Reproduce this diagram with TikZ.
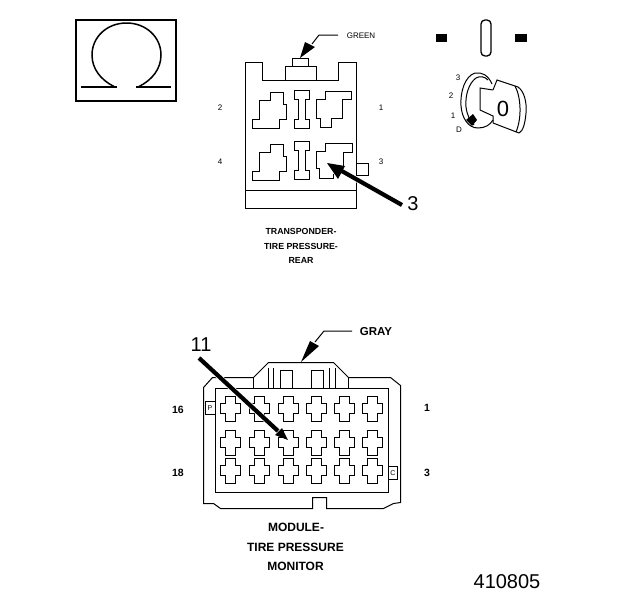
\documentclass[tikz,border=0pt]{standalone}
\usepackage{fontspec}
\setmainfont{Liberation Sans}
\tikzset{
  outl/.style={line width=1pt,line join=miter,xshift=0.5pt,yshift=-0.5pt},
  thickarrow/.style={line width=4.2pt},
  halo/.style={line width=5.6pt,white},
  leader/.style={line width=1pt},
  tiny/.style={inner sep=0pt,font=\fontsize{8}{9}\selectfont},
  tinyb/.style={inner sep=0pt,font=\fontsize{8.8}{10}\selectfont\bfseries},
  midb/.style={inner sep=0pt,font=\fontsize{12}{14}\selectfont\bfseries},
  sideb/.style={inner sep=0pt,font=\fontsize{10.5}{12}\selectfont\bfseries},
  big/.style={inner sep=0pt,font=\fontsize{20}{22}\selectfont},
  num/.style={inner sep=0pt,font=\fontsize{20}{22}\selectfont}
}
\newcommand{\pluscav}[2]{%
  \draw[outl,shift={(#1,#2)}] (-5,-12)--(5,-12)--(5,-5)--(10,-5)--(10,5)--(5,5)--(5,13)--(-5,13)--(-5,5)--(-10,5)--(-10,-5)--(-5,-5)--cycle;}
\newcommand{\icav}[2]{%
  \draw[outl,shift={(#1,#2)}] (-7,-19)--(8,-19)--(8,-10)--(4,-10)--(4,10)--(8,10)--(8,19)--(-7,19)--(-7,10)--(-3,10)--(-3,-10)--(-7,-10)--cycle;}
\newcommand{\lcav}[2]{%
  \draw[outl,shift={(#1,#2)}] (18,-19)--(31,-19)--(31,-7)--(34,-7)--(34,8)--(27,8)--(27,17)--(0,17)--(0,8)--(7,8)--(7,-11)--(18,-11)--cycle;}
\begin{document}
\begin{tikzpicture}[x=1pt,y=-1pt]
\useasboundingbox (0,0) rectangle (624,600);
% Omega badge
\draw[line width=1.6pt] (76,20) rectangle (176,101);
\draw[line width=1.5pt] (114,86.5) .. controls (101,80) and (92,69) .. (92,55)
  .. controls (92,37) and (107,23) .. (126.5,23) .. controls (146,23) and (161,37) .. (161,55)
  .. controls (161,69) and (152,80) .. (139,86.5);
\draw[line width=2.2pt] (81,87)--(117,87) (136,87)--(171,87);
% Upper connector
\draw[outl] (245,62)--(262,62)--(262,80)--(338,80)--(338,62)--(356,62)--(356,208)--(245,208)--cycle;
\draw[outl] (245,190)--(356,190);
\draw[outl] (285,80)--(285,66)--(316,66)--(316,80);
\draw[outl] (292,66)--(292,58)--(308,58)--(308,66);
\lcav{252}{111}
\lcav{252}{163}
\icav{301}{109}
\icav{301}{160}
\draw[outl] (325,91)--(351,91)--(351,99)--(342,99)--(342,118)--(331,118)--(331,127)--(320,127)--(320,118)--(316,118)--(316,99)--(325,99)--cycle;
\draw[outl] (325,151)--(325,143)--(352,143)--(352,152)--(343,152)--(343,166)
  (333,173)--(333,178)--(319,178)--(319,168)--(316,168)--(316,151)--(325,151);
\draw[outl] (356,163)--(368,163)--(368,175)--(356,175);
% Upper connector callouts
\coordinate (greenStart) at (338,35);
\coordinate (greenKnee) at (319,35);
\coordinate (greenTip) at (300,58);
\draw[leader] (greenStart)--(greenKnee)--(312,44);
\fill[black] (greenTip)--(305,42)--(315,47)--cycle;
\node[tiny] (green) at (361,36) {GREEN};
\coordinate (threeTail) at (402,205);
\coordinate (threeTip) at (327,163);
\draw[halo] (threeTail)--(340,170);
\draw[thickarrow] (threeTail)--(340,170);
\fill[black] (threeTip)--(345,166)--(338,179)--cycle;
\node[big] (three) at (413,204) {3};
\node[tiny] (u2) at (220,108) {2};
\node[tiny] (u1) at (381,108) {1};
\node[tiny] (u4) at (220,162) {4};
\node[tiny] (u3) at (381,162) {3};
\node[tinyb] (t1) at (301,231) {TRANSPONDER-};
\node[tinyb] (t2) at (301,246) {TIRE PRESSURE-};
\node[tinyb] (t3) at (301,260) {REAR};
% Ignition switch
\fill[black] (436,34) rectangle (447,42);
\fill[black] (515,34) rectangle (527,42);
\draw[line width=1.3pt,rounded corners=4pt] (481,20) rectangle (491,56);
\draw[line width=1pt] (492,84) .. controls (488,75) and (482,72) .. (475,73)
  .. controls (465,76) and (460,92) .. (461,106) .. controls (462,118) and (468,128) .. (478,128)
  .. controls (485,128) and (490,125) .. (493,120);
\draw[line width=1pt] (488,80) .. controls (484,76) and (480,76) .. (476,78)
  .. controls (469,83) and (465,95) .. (466,107) .. controls (467,115) and (470,121) .. (474,125);
\draw[line width=1pt] (493,90)--(480,88)--(480,110)--(493,116)--(493,123)
  (493,90)--(497,80)--(518,87) .. controls (524,91) and (527,102) .. (526,113)
  .. controls (525,124) and (523,131) .. (519,133) -- (493,123);
\draw[line width=1pt] (515,86) .. controls (521,97) and (522,118) .. (516,132);
\fill[black] (473,114)--(477,120)--(472,126)--(466,120)--cycle;
\node[inner sep=0pt,font=\fontsize{22}{24}\selectfont] (zero) at (503,109) {0};
\node[tiny] (s3) at (458,78) {3};
\node[tiny] (s2) at (451,96) {2};
\node[tiny] (s1) at (453,116) {1};
\node[tiny] (s0) at (459,130) {D};
% Lower connector
\draw[outl] (253,377)--(268,362)--(333,362)--(348,377)--(390,377)--(400,385)--(400,502)--(393,503)--(383,508)--(326,508)--(326,497)--(312,497)--(312,508)--(220,508)--(213,503)--(203,503)--(203,387)--(212,377)--cycle;
\draw[outl] (253,377)--(253,388) (348,377)--(348,388);
\draw[outl] (215,388) rectangle (388,492);
\draw[outl] (268,388)--(268,367) (273,388)--(273,367);
\draw[outl] (280,388)--(280,370)--(292,370)--(292,388);
\draw[outl] (311,388)--(311,370)--(323,370)--(323,388);
\draw[outl] (329,388)--(329,367) (335,388)--(335,367);
\foreach \cx in {230,259,288,316,344,372}{
  \foreach \cy in {408,442,470}{ \pluscav{\cx}{\cy} }
}
\draw[outl] (215,401)--(205,401)--(205,414)--(215,414);
\node[inner sep=0pt,font=\fontsize{7}{7}\selectfont] (latchL) at (210,408) {P};
\draw[outl] (388,466)--(397,466)--(397,479)--(388,479);
\node[inner sep=0pt,font=\fontsize{7}{7}\selectfont] (latchR) at (393,473) {C};
% Lower connector callouts
\coordinate (grayStart) at (352,331);
\coordinate (grayKnee) at (324,331);
\coordinate (grayTip) at (301,362);
\draw[leader] (grayStart)--(grayKnee)--(315,342);
\fill[black] (grayTip)--(310,341)--(319,346)--cycle;
\node[inner sep=0pt,font=\fontsize{11.5}{13}\selectfont\bfseries] (gray) at (376,332) {GRAY};
\coordinate (elevenTail) at (199,358);
\coordinate (elevenTip) at (288,440);
\draw[halo] (elevenTail)--(278,431);
\draw[thickarrow] (elevenTail)--(278,431);
\fill[black] (elevenTip)--(275,435)--(282,428)--cycle;
\node[big] (eleven) at (201,345) {11};
\node[sideb] (l16) at (178,410) {16};
\node[sideb] (l1) at (427,408) {1};
\node[sideb] (l18) at (178,473) {18};
\node[sideb] (l3) at (427,473) {3};
\node[midb] (b1) at (296,527) {MODULE-};
\node[midb] (b2) at (295.5,547) {TIRE PRESSURE};
\node[midb] (b3) at (295.5,566.5) {MONITOR};
\node[num] (code) at (507,582) {410805};
\end{tikzpicture}
\end{document}
